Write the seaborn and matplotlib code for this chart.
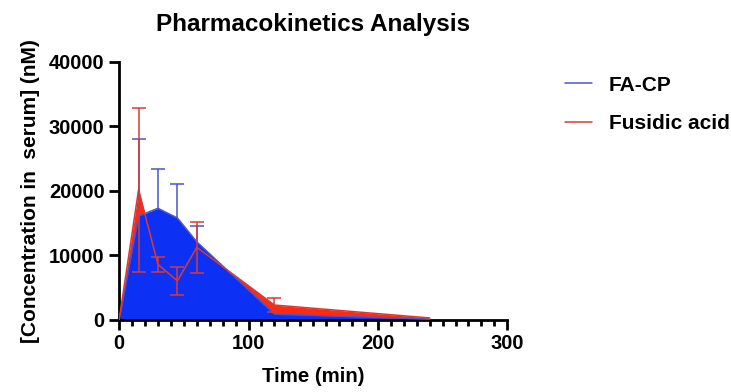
import numpy as np
import pandas as pd
import matplotlib.pyplot as plt
import seaborn as sns
from matplotlib.ticker import MultipleLocator

time = [0, 15, 30, 45, 60, 120, 240]
fa_cp = [0, 16100, 17300, 15800, 12100, 900, 100]
fa_cp_sd = [0, 12000, 6100, 5300, 2500, 0, 0]
fusidic = [0, 20200, 8600, 6050, 11250, 2300, 300]
fusidic_sd = [0, 12700, 1100, 2150, 3950, 1100, 0]

df = pd.DataFrame({
    "Time": time * 2,
    "Conc": fa_cp + fusidic,
    "Drug": ["FA-CP"] * len(time) + ["Fusidic acid"] * len(time),
})

sns.set_style("ticks")
plt.rcParams["font.family"] = ["Liberation Sans", "DejaVu Sans"]
plt.rcParams["text.color"] = "black"
plt.rcParams["axes.labelcolor"] = "black"
plt.rcParams["xtick.color"] = "black"
plt.rcParams["ytick.color"] = "black"
plt.rcParams["axes.edgecolor"] = "black"

fig = plt.figure(figsize=(7.31, 3.92), dpi=100)
ax = fig.add_axes([0.163, 0.184, 0.531, 0.658])

# filled areas under curves
ax.fill_between(time, fusidic, color="#ff2a10", lw=0, zorder=1)
ax.fill_between(time, fa_cp, color="#0d30f5", lw=0, zorder=2)

pal = {"FA-CP": "#4a55c8", "Fusidic acid": "#d83a35"}
sns.lineplot(data=df, x="Time", y="Conc", hue="Drug", palette=pal,
             lw=1.1, ax=ax, zorder=3)

t = np.array(time)
m = np.array(fa_cp_sd) > 0
eb = ax.errorbar(t[m], np.array(fa_cp)[m],
                 yerr=[np.zeros(m.sum()), np.array(fa_cp_sd)[m]], fmt="none",
                 ecolor=pal["FA-CP"], elinewidth=1.1, capsize=5, capthick=1.1, zorder=4)
eb[1][0].set_visible(False)  # upper-only bars for FA-CP

m = np.array(fusidic_sd) > 0
ax.errorbar(t[m], np.array(fusidic)[m], yerr=np.array(fusidic_sd)[m], fmt="none",
            ecolor=pal["Fusidic acid"], elinewidth=1.1, capsize=5, capthick=1.1, zorder=4)

ax.set_xlim(0, 300)
ax.set_ylim(0, 40000)
ax.xaxis.set_major_locator(MultipleLocator(100))
ax.xaxis.set_minor_locator(MultipleLocator(10))
ax.yaxis.set_major_locator(MultipleLocator(10000))
ax.tick_params(which="major", length=7, width=2, labelsize=14.5)
ax.tick_params(which="minor", length=4.5, width=2)
for lab in ax.get_xticklabels() + ax.get_yticklabels():
    lab.set_fontweight("bold")
for s in ["left", "bottom"]:
    ax.spines[s].set_linewidth(2)
sns.despine(ax=ax)

ax.set_title("Pharmacokinetics Analysis", fontsize=17.5, fontweight="bold", pad=22)
ax.set_xlabel("Time (min)", fontsize=14.7, fontweight="bold", labelpad=10)
ax.set_ylabel("[Concentration in  serum] (nM)", fontsize=15, fontweight="bold", labelpad=6)

leg = ax.legend(loc="upper left", bbox_to_anchor=(1.1, 1.02), frameon=False,
                title=None, fontsize=15, handlelength=1.3, handletextpad=0.8,
                labelspacing=0.95)
for txt in leg.get_texts():
    txt.set_fontweight("bold")

fig.savefig("out.png", dpi=100)
